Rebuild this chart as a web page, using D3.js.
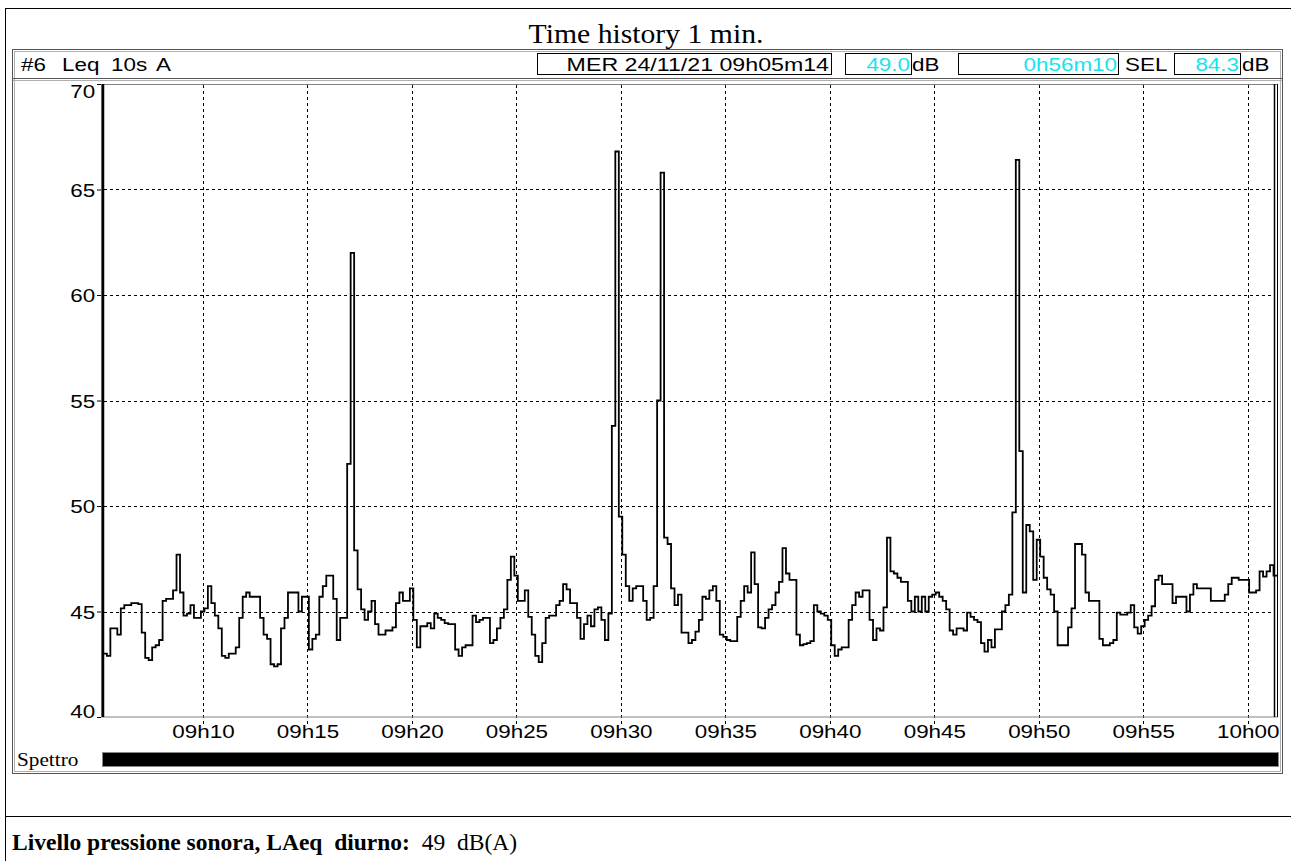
<!DOCTYPE html>
<html><head><meta charset="utf-8">
<script src="https://cdn.jsdelivr.net/npm/d3@7"></script>
<style>body{margin:0;background:#fff} svg{display:block} text{white-space:pre}</style>
</head><body>
<svg id="chart" width="1291" height="861"></svg>
<script>
// ---- data ----
const startTime = "09:05:14";
const stepSeconds = 10;
const laeq = [
 43.0,42.9,44.2,44.2,43.9,45.15,45.3,45.3,45.4,45.4,
 45.35,44.0,42.8,42.7,43.3,43.4,43.65,45.5,45.6,45.6,
 46.0,47.7,45.9,44.8,44.9,45.3,44.7,44.7,45.0,45.15,
 46.2,45.4,44.8,44.2,42.9,42.8,43.0,43.0,43.3,44.7,
 45.7,45.9,45.7,45.7,45.7,44.7,43.9,43.7,42.5,42.4,
 42.5,44.2,44.7,45.9,45.9,45.9,45.0,45.7,45.7,43.2,
 43.7,43.9,45.7,46.2,46.7,46.7,45.6,43.65,44.7,44.7,
 52.0,62.0,47.9,46.05,45.1,44.6,45.0,45.5,44.4,43.9,
 43.9,44.1,44.1,44.25,45.4,45.9,45.5,45.5,46.1,44.6,
 43.3,44.3,44.3,44.45,44.2,44.9,44.7,44.6,44.45,44.4,
 44.4,43.2,42.9,43.3,43.4,43.4,44.8,44.5,44.6,44.7,
 44.7,43.5,43.65,44.2,44.7,45.1,46.5,47.6,46.7,45.5,
 45.5,46.0,44.75,43.9,42.9,42.6,43.5,44.7,44.8,44.8,
 45.3,45.5,46.3,46.05,45.4,45.4,44.7,43.7,44.4,44.8,
 44.3,45.1,45.2,44.6,43.65,44.9,53.8,66.8,49.5,47.7,
 46.2,45.5,46.1,46.2,46.2,45.5,44.6,44.7,46.2,55.0,
 65.8,48.5,48.2,46.1,45.3,45.8,44.0,44.0,43.5,43.65,
 44.05,44.6,45.7,45.6,46.0,46.2,45.5,43.9,43.8,43.65,
 43.6,43.6,44.75,45.5,46.2,45.9,47.8,46.3,44.25,44.2,
 44.7,45.1,45.3,45.9,46.4,48.0,46.8,46.5,46.5,43.9,
 43.4,43.45,43.5,43.6,45.3,45.0,44.9,44.8,44.6,43.4,
 42.9,43.2,43.3,43.3,44.6,45.3,45.9,45.7,46.0,46.0,
 44.6,43.65,44.2,44.1,45.2,48.5,46.9,46.8,46.6,46.4,
 46.4,45.5,45.0,45.7,45.0,45.7,45.0,45.7,45.8,45.9,
 45.7,45.5,45.1,44.1,43.9,44.2,44.2,44.1,44.95,44.75,
 44.6,44.5,43.5,43.1,43.65,43.3,44.15,44.15,45.0,45.3,
 45.8,49.7,66.4,52.6,45.9,49.1,48.8,46.5,48.4,47.6,
 46.6,46.05,45.8,45.0,43.4,43.4,43.4,44.25,45.15,48.2,
 48.2,47.7,45.9,45.5,45.5,45.5,43.7,43.4,43.4,43.5,
 43.65,44.95,44.85,44.85,44.95,45.3,44.25,43.95,44.3,44.6,
 44.8,45.25,46.5,46.7,46.3,46.3,46.3,45.4,45.7,45.7,
 45.7,45.0,45.8,46.3,46.1,46.1,46.1,46.1,45.5,45.5,
 45.5,45.5,45.8,46.3,46.6,46.6,46.5,46.5,46.5,45.9,
 45.9,46.0,46.9,46.65,46.9,47.2,46.7
];
const dbTicks = [40, 45, 50, 55, 60, 65, 70];
const timeTickLabels = ["09h10","09h15","09h20","09h25","09h30","09h35","09h40","09h45","09h50","09h55","10h00"];
const titleText = "Time history 1 min.";
const headerWords = ["#6", "Leq", "10s", "A"];
const headerDate = "MER 24/11/21 09h05m14";
const leqValue = "49.0";
const durationValue = "0h56m10";
const selValue = "84.3";
const spectrumLabel = "Spettro";
const footerBold = "Livello pressione sonora, LAeq  diurno:";
const footerValue = "  49  dB(A)";

// ---- drawing ----
const svg = d3.select("#chart");
const SANS = "'Liberation Sans', Arial, sans-serif";
const SERIF = "'Liberation Serif', 'Times New Roman', serif";
const SX = 1.18;
const CYAN = "#14e4ee";

function txt(parent, x, y, s, o) {
  o = o || {};
  return parent.append("text")
    .attr("transform", `translate(${x},${y}) scale(${o.sx || SX},1)`)
    .attr("text-anchor", o.anchor || "start")
    .attr("font-family", o.family || SANS)
    .attr("font-size", o.size || 19)
    .attr("font-weight", o.weight || "normal")
    .attr("fill", o.fill || "#000")
    .text(s);
}

// outer frame
svg.append("line").attr("x1",5).attr("x2",1291).attr("y1",8.5).attr("y2",8.5).attr("stroke","#000");
svg.append("line").attr("x1",5.5).attr("x2",5.5).attr("y1",8).attr("y2",861).attr("stroke","#000");
svg.append("line").attr("x1",5).attr("x2",1291).attr("y1",816.5).attr("y2",816.5).attr("stroke","#000");

// title
txt(svg, 646, 43, titleText, {family: SERIF, size: 27, sx: 1.1, anchor: "middle"});

// panel
svg.append("rect").attr("x",12.5).attr("y",49.5).attr("width",1270).attr("height",724)
  .attr("fill","none").attr("stroke","#555");
svg.append("rect").attr("x",14.5).attr("y",51.5).attr("width",1266).attr("height",720)
  .attr("fill","none").attr("stroke","#b0b0b0");
svg.append("line").attr("x1",13).attr("x2",1282).attr("y1",78.5).attr("y2",78.5).attr("stroke","#555");
svg.append("line").attr("x1",13).attr("x2",1282).attr("y1",80.5).attr("y2",80.5).attr("stroke","#b0b0b0");

// header
const headerX = [21, 62, 111, 156];
headerWords.forEach((w, i) => txt(svg, headerX[i], 71, w));
const boxes = [
  {x: 537.5, w: 294}, {x: 845.5, w: 66}, {x: 958.5, w: 160}, {x: 1174.5, w: 66}
];
svg.selectAll("rect.hbox").data(boxes).enter().append("rect").attr("class","hbox")
  .attr("x", d => d.x).attr("y", 53.5).attr("width", d => d.w).attr("height", 21)
  .attr("fill", "#fff").attr("stroke", "#000");
txt(svg, 829, 71, headerDate, {anchor: "end", sx: 1.22});
txt(svg, 910, 71, leqValue, {anchor: "end", fill: CYAN});
txt(svg, 912, 71, "dB");
txt(svg, 1117, 71, durationValue, {anchor: "end", fill: CYAN});
txt(svg, 1125, 71, "SEL");
txt(svg, 1239, 71, selValue, {anchor: "end", fill: CYAN});
txt(svg, 1242, 71, "dB");

// scales
const parseT = d3.timeParse("%H:%M:%S");
const t0 = parseT(startTime);
const tEnd = new Date(t0.getTime() + laeq.length * stepSeconds * 1000);
const x = d3.scaleTime().domain([t0, tEnd]).range([103.4, 1277]);
const y = d3.scaleLinear().domain([40, 70]).range([717, 84]);
const tickDates = timeTickLabels.map(d3.timeParse("%Hh%M"));

// grid
const grid = svg.append("g").attr("stroke", "#000").attr("stroke-width", 1).attr("stroke-dasharray", "3,3");
grid.selectAll("line.h").data(dbTicks.filter(d => d > 40 && d < 70)).enter().append("line")
  .attr("x1", 104).attr("x2", 1274).attr("y1", d => Math.round(y(d)) + 0.5).attr("y2", d => Math.round(y(d)) + 0.5);
grid.selectAll("line.v").data(tickDates).enter().append("line")
  .attr("x1", d => Math.round(x(d)) + 0.5).attr("x2", d => Math.round(x(d)) + 0.5)
  .attr("y1", 85).attr("y2", 724);

// plot frame
svg.append("rect").attr("x", 101.5).attr("y", 84.5).attr("width", 1176).attr("height", 632.5)
  .attr("fill", "none").attr("stroke", "#808080");
svg.append("line").attr("x1", 103).attr("x2", 103).attr("y1", 84).attr("y2", 717).attr("stroke", "#000").attr("stroke-width", 2.5);
svg.append("line").attr("x1", 1274.5).attr("x2", 1274.5).attr("y1", 84).attr("y2", 717).attr("stroke", "#000").attr("stroke-width", 1.5);
svg.append("line").attr("x1", 1277.5).attr("x2", 1277.5).attr("y1", 84).attr("y2", 717).attr("stroke", "#000").attr("stroke-width", 1);

// axes
const xAxis = svg.append("g").attr("transform", "translate(0,717)")
  .call(d3.axisBottom(x).tickValues(tickDates).tickFormat(d3.timeFormat("%Hh%M")).tickSize(0).tickPadding(8));
xAxis.select(".domain").remove();
xAxis.selectAll("text").attr("font-family", SANS).attr("font-size", 19).attr("fill", "#000")
  .attr("transform", `scale(${SX},1)`).attr("x", 0);

const yAxis = svg.append("g").attr("transform", "translate(101,0)")
  .call(d3.axisLeft(y).tickValues(dbTicks).tickSize(4).tickPadding(1));
yAxis.select(".domain").remove();
yAxis.selectAll("line").attr("stroke", "#000");
yAxis.selectAll("text").attr("font-family", SANS).attr("font-size", 19).attr("fill", "#000")
  .attr("transform", `scale(${SX},1)`)
  .attr("dy", d => d === 70 ? "0.72em" : d === 40 ? "0em" : "0.36em");

// series
const pts = laeq.map((v, i) => [new Date(t0.getTime() + i * stepSeconds * 1000), v]);
pts.push([tEnd, laeq[laeq.length - 1]]);
const line = d3.line().x(d => x(d[0])).y(d => y(d[1])).curve(d3.curveStepAfter);
svg.append("path").datum(pts).attr("d", line).attr("fill", "none")
  .attr("stroke", "#000").attr("stroke-width", 1.8).attr("stroke-linejoin", "miter");

// spectrum bar
svg.append("rect").attr("x", 102.5).attr("y", 752.5).attr("width", 1176).attr("height", 14)
  .attr("fill", "#000").attr("stroke", "#888");
txt(svg, 17, 766, spectrumLabel, {family: SERIF, size: 18});

// footer
const ft = svg.append("text").attr("transform", `translate(12,850) scale(0.98,1)`)
  .attr("font-family", SERIF).attr("font-size", 24);
ft.append("tspan").attr("font-weight", "bold").text(footerBold);
ft.append("tspan").attr("font-weight", "normal").text(footerValue);
</script>
</body></html>
